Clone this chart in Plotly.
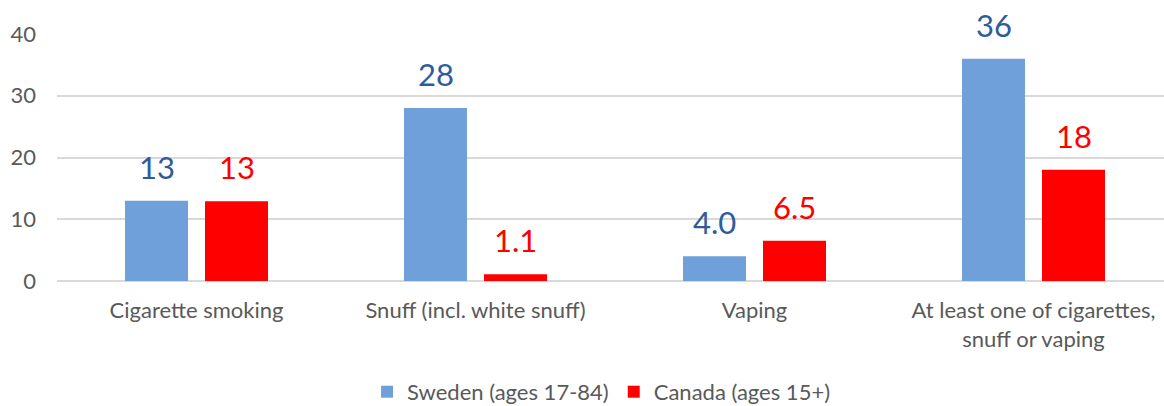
import plotly.graph_objects as go

categories = ["Cigarette smoking", "Snuff (incl. white snuff)", "Vaping",
              "At least one of cigarettes,<br>snuff or vaping"]
sweden = [13.0, 28.0, 4.0, 36.0]
canada = [12.9, 1.1, 6.5, 18.0]
sweden_labels = ["13", "28", "4.0", "36"]
canada_labels = ["13", "1.1", "6.5", "18"]
series_names = ["Sweden (ages 17-84)", "Canada (ages 15+)"]

FONT = "Lato"
SWE_BAR = "#6FA0DA"
SWE_TXT = "#2E5C9B"
CAN = "#FF0000"

fig = go.Figure()
fig.add_trace(go.Bar(x=categories, y=sweden, name=series_names[0],
                     marker=dict(color=SWE_BAR, line=dict(width=0))))
fig.add_trace(go.Bar(x=categories, y=canada, name=series_names[1],
                     marker=dict(color=CAN, line=dict(width=0))))

annotations = []
for c, v, t in zip(categories, sweden, sweden_labels):
    annotations.append(dict(x=c, y=v, text=t, xref="x", yref="y", showarrow=False,
                            xshift=-40, yanchor="bottom", yshift=13,
                            font=dict(family=FONT, size=31, color=SWE_TXT)))
for c, v, t in zip(categories, canada, canada_labels):
    annotations.append(dict(x=c, y=v, text=t, xref="x", yref="y", showarrow=False,
                            xshift=40, yanchor="bottom", yshift=13,
                            font=dict(family=FONT, size=31, color=CAN)))

fig.update_layout(
    width=1173, height=406,
    margin=dict(l=57, r=0, t=34, b=125, autoexpand=False),
    paper_bgcolor="white", plot_bgcolor="white",
    barmode="group", bargap=0.4265, bargroupgap=0.2125,
    font=dict(family=FONT, color="#595959"),
    annotations=annotations,
    legend=dict(orientation="h", x=0.4875, xanchor="center", y=-0.449, yanchor="middle",
                font=dict(family=FONT, size=22, color="#595959"),
                tracegroupgap=0),
    yaxis=dict(range=[0, 40], tickvals=[0, 10, 20, 30, 40], showgrid=True,
               gridcolor="#D9D9D9", gridwidth=1.5, zeroline=True,
               zerolinecolor="#D9D9D9", zerolinewidth=1.5, showline=False,
               ticks="", ticklabelstandoff=20, automargin=False,
               tickfont=dict(family=FONT, size=22, color="#595959")),
    xaxis=dict(showline=False, ticks="", ticklabelstandoff=14, automargin=False,
               tickfont=dict(family=FONT, size=22, color="#595959")),
)

fig.write_html("out.html", config={"displayModeBar": False},
               post_script="document.body.style.margin='0';document.body.style.overflow='hidden';")
